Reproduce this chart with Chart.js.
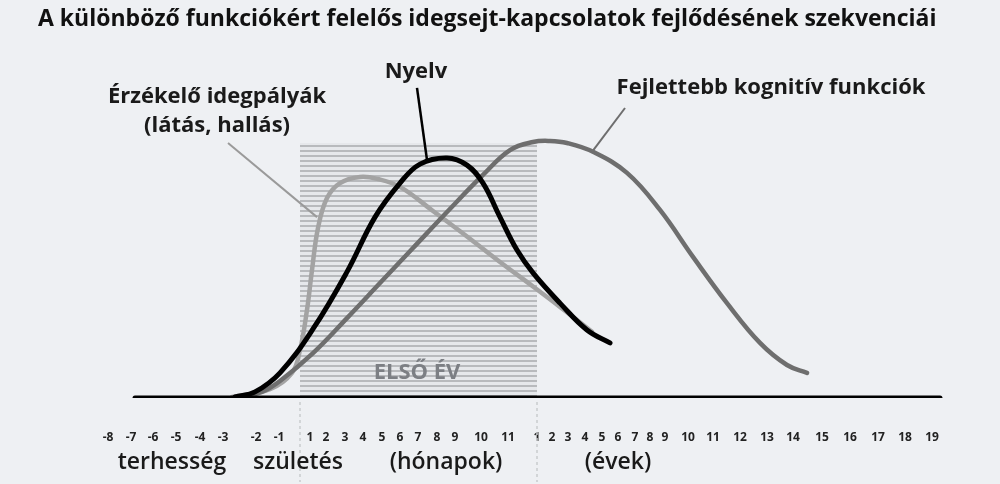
<!DOCTYPE html>
<html lang="hu">
<head>
<meta charset="utf-8">
<title>Idegsejt-kapcsolatok fejlődése</title>
<script src="https://cdn.jsdelivr.net/npm/chart.js@4.4.1/dist/chart.umd.min.js"></script>
<style>
  html, body { margin: 0; padding: 0; background: #eef0f3; }
  #wrap { width: 1000px; height: 484px; position: relative; }
</style>
</head>
<body>
<div id="wrap"><canvas id="dev-chart"></canvas></div>
<script>
const titleText = 'A különböző funkciókért felelős idegsejt-kapcsolatok fejlődésének szekvenciái';

// timeline ticks (the axis is a schematic, not to scale)
const tickLabels = ['-8','-7','-6','-5','-4','-3','-2','-1',
  '1','2','3','4','5','6','7','8','9','10','11',
  '1','2','3','4','5','6','7','8','9','10','11','12','13','14','15','16','17','18','19'];
const tickPos = [7.0, 9.3, 11.5, 13.8, 16.2, 18.5, 21.8, 24.1,
  27.2, 28.8, 30.7, 32.5, 34.4, 36.2, 38.0, 39.9, 41.7, 44.3, 47.0,
  49.9, 51.4, 53.0, 54.7, 56.4, 58.0, 59.7, 61.2, 62.7, 65.0, 67.5, 70.2, 72.9, 75.5, 78.4, 81.2, 84.0, 86.7, 89.4];

const periodLabels = ['terhesség', 'születés', '(hónapok)', '(évek)'];
const periodPos = [13.4, 26.0, 40.8, 58.0];

// curves: [timeline position, relative intensity]
const sensory = [[19.4,0.3],[23.2,2.6],[25.4,7.4],[26.2,14.1],[26.9,25.9],[27.4,37.6],[28.0,50.0],
  [28.9,58.8],[30.2,63.2],[32.2,65.0],[34.0,64.4],[36.2,62.1],[39.5,55.0],[42.9,47.5],[46.2,40.0],
  [49.5,32.8],[52.2,26.8],[55.4,19.5]];
const language = [[19.7,0.3],[21.7,1.8],[24.2,7.4],[27.5,20.3],[30.9,37.1],[33.7,53.2],[36.2,63.2],
  [38.2,68.8],[40.9,70.6],[42.9,68.5],[44.5,63.2],[46.2,53.2],[47.9,43.5],[49.5,36.8],[52.2,27.9],
  [54.9,20.0],[57.2,16.2]];
const cognitive = [[20.2,0.3],[22.4,1.8],[24.2,5.0],[27.5,13.2],[30.9,23.5],[34.2,33.8],[37.5,44.1],
  [40.9,54.7],[44.5,65.6],[47.2,72.9],[49.5,75.3],[51.2,75.6],[52.9,75.0],[55.5,72.4],[58.9,66.2],
  [62.2,55.3],[65.5,41.5],[68.9,27.9],[72.2,16.2],[74.9,9.7],[76.9,7.4]];
const baseline = [[9.7,0],[90.2,0]];
const firstYear = [[26.2,75],[49.9,75]];

const seriesNames = ['Érzékelő idegpályák', '(látás, hallás)', 'Nyelv', 'Fejlettebb kognitív funkciók'];
const bandLabel = 'ELSŐ ÉV';

function stripes() {
  const c = document.createElement('canvas');
  c.width = 8; c.height = 5;
  const g = c.getContext('2d');
  g.fillStyle = '#e6e8eb';
  g.fillRect(0, 0, 8, 5);
  g.fillStyle = '#b8babd';
  g.fillRect(0, 0, 8, 2);
  return g.createPattern(c, 'repeat');
}

function curve(points, color, width) {
  return {
    data: points.map(([x, y]) => ({ x, y })),
    borderColor: color,
    borderWidth: width,
    pointRadius: 0,
    fill: false,
    tension: 0.4,
    borderCapStyle: 'round',
    borderJoinStyle: 'round'
  };
}

const overlay = {
  id: 'overlay',
  beforeDatasetsDraw(chart) {
    const { ctx, scales: { x } } = chart;
    ctx.save();
    ctx.strokeStyle = '#c9cbce';
    ctx.lineWidth = 1.5;
    ctx.setLineDash([3, 3]);
    [26.2, 49.9].forEach(v => {
      const px = x.getPixelForValue(v);
      ctx.beginPath();
      ctx.moveTo(px, 402);
      ctx.lineTo(px, 482);
      ctx.stroke();
    });
    ctx.restore();
  },
  afterDatasetsDraw(chart) {
    const { ctx, scales: { x, y } } = chart;
    const px = v => x.getPixelForValue(v);
    const py = v => y.getPixelForValue(v);
    ctx.save();

    ctx.fillStyle = '#7c7f84';
    ctx.font = 'bold 22px "Open Sans"';
    ctx.textAlign = 'center';
    ctx.textBaseline = 'middle';
    ctx.fillText(bandLabel, px(37.9), py(7.4));

    // leader lines
    const leader = (a, b, color, w) => {
      ctx.strokeStyle = color;
      ctx.lineWidth = w;
      ctx.beginPath();
      ctx.moveTo(px(a[0]), py(a[1]));
      ctx.lineTo(px(b[0]), py(b[1]));
      ctx.stroke();
    };
    leader([19.0, 75], [27.9, 53.2], '#9a9a9a', 2);
    leader([37.9, 91.2], [38.9, 70], '#000', 2.5);
    leader([58.7, 85.3], [55.4, 72.4], '#6e6e6e', 2);

    ctx.fillStyle = '#1a1a1a';
    ctx.font = 'bold 22px "Open Sans"';
    ctx.fillText(seriesNames[0], px(17.9), py(88.5));
    ctx.fillText(seriesNames[1], px(17.9), py(80));
    ctx.fillText(seriesNames[2], px(37.8), py(95.9));
    ctx.fillText(seriesNames[3], px(73.3), py(91.2));

    ctx.font = '600 23px "Open Sans"';
    periodLabels.forEach((t, i) => ctx.fillText(t, px(periodPos[i]), 462));
    ctx.restore();
  }
};

const ctx = document.getElementById('dev-chart').getContext('2d');

new Chart(ctx, {
  type: 'line',
  data: {
    datasets: [
      curve(baseline, '#000', 5),
      curve(language, '#000', 5),
      curve(cognitive, '#6e6e6e', 4.5),
      curve(sensory, '#a3a3a3', 4.5),
      {
        data: firstYear.map(([x, y]) => ({ x, y })),
        borderWidth: 0,
        pointRadius: 0,
        backgroundColor: stripes(),
        fill: 'origin'
      }
    ]
  },
  options: {
    responsive: true,
    maintainAspectRatio: false,
    animation: false,
    layout: { padding: { left: 38, right: 40, top: 0, bottom: 0 } },
    plugins: {
      legend: { display: false },
      tooltip: { enabled: false },
      title: {
        display: true,
        text: titleText,
        align: 'start',
        color: '#111',
        font: { family: 'Open Sans', size: 23, weight: 'bold' },
        padding: { top: 6, bottom: 24.4 }
      }
    },
    scales: {
      x: {
        type: 'linear',
        min: 0,
        max: 92.2,
        grid: { display: false, drawTicks: false },
        border: { display: false },
        afterBuildTicks: s => { s.ticks = tickPos.map(v => ({ value: v })); },
        afterFit: s => { s.height = 86; },
        ticks: {
          autoSkip: false,
          maxRotation: 0,
          padding: 32,
          color: '#222',
          font: { family: 'Open Sans', size: 12, weight: 'bold' },
          callback: (v, i) => tickLabels[i]
        }
      },
      y: { display: false, min: 0, max: 100 }
    }
  },
  plugins: [overlay]
});
</script>
</body>
</html>
